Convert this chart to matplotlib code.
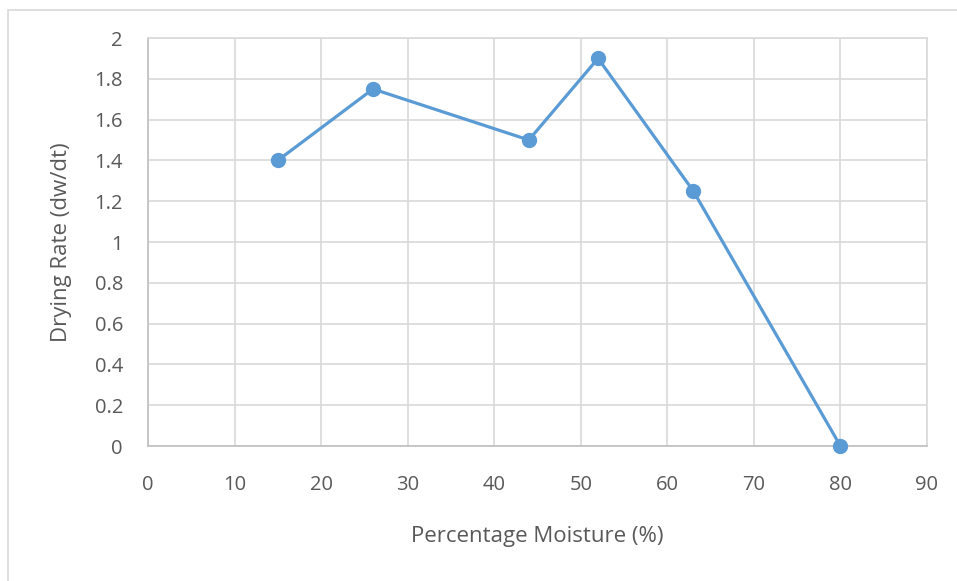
import matplotlib
matplotlib.use("Agg")
import matplotlib.pyplot as plt
from matplotlib.patches import Rectangle

# data
moisture = [15, 26, 44, 52, 63, 80]
drying_rate = [1.4, 1.75, 1.5, 1.9, 1.25, 0]
x_ticks = [0, 10, 20, 30, 40, 50, 60, 70, 80, 90]
y_ticks = [0, 0.2, 0.4, 0.6, 0.8, 1, 1.2, 1.4, 1.6, 1.8, 2]
y_labels = ["0", "0.2", "0.4", "0.6", "0.8", "1", "1.2", "1.4", "1.6", "1.8", "2"]

plt.rcParams['font.family'] = ['Open Sans', 'DejaVu Sans']
text_col = '#595959'
grid_col = '#d9d9d9'

fig = plt.figure(figsize=(9.57, 5.81), dpi=100)
ax = fig.add_axes([148/957, 1 - 446/581, (927-148)/957, (446-38)/581])

# outer chart border (Excel style), runs off right and bottom edges
fig.patches.append(Rectangle((8/957, -0.1), 1.2, 1.1 - 10/581, transform=fig.transFigure,
                             fill=False, edgecolor='#d9d9d9', linewidth=1.2))

ax.plot(moisture, drying_rate, color='#5b9bd5', linewidth=2.3,
        marker='o', markersize=10, markeredgecolor='#5b9bd5', zorder=3, clip_on=False)

ax.set_xlim(0, 90)
ax.set_ylim(0, 2)
ax.set_xticks(x_ticks)
ax.set_yticks(y_ticks)
ax.set_yticklabels(y_labels)
ax.grid(True, color=grid_col, linewidth=1.2)
ax.set_axisbelow(True)
for side in ['top', 'right']:
    ax.spines[side].set_color(grid_col)
    ax.spines[side].set_linewidth(1.2)
for side in ['left', 'bottom']:
    ax.spines[side].set_color('#bfbfbf')
    ax.spines[side].set_linewidth(1.2)
ax.tick_params(length=0, labelsize=14.5, colors=text_col)
ax.tick_params(axis='x', pad=21)
ax.tick_params(axis='y', pad=18)

ax.set_xlabel('Percentage Moisture (%)', fontsize=16, color=text_col, labelpad=22)
ax.set_ylabel('Drying Rate (dw/dt)', fontsize=16, color=text_col, labelpad=16)

fig.savefig('out.png', dpi=100)
